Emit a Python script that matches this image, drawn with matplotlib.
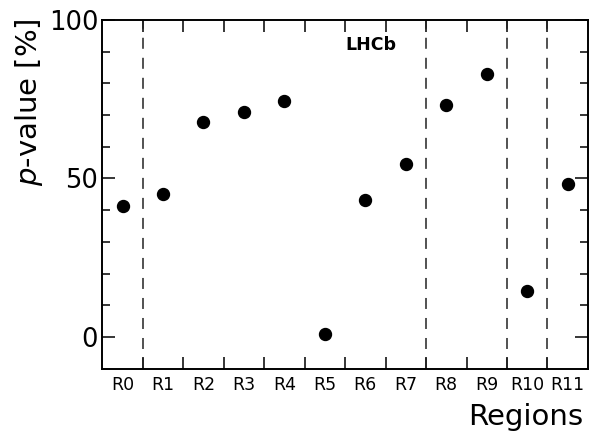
import matplotlib
matplotlib.use("Agg")
import matplotlib.pyplot as plt
from matplotlib.ticker import FixedLocator, MultipleLocator

plt.rcParams['font.family'] = 'DejaVu Sans'
plt.rcParams['mathtext.fontset'] = 'dejavusans'

# p-values per region
regions = ['R0', 'R1', 'R2', 'R3', 'R4', 'R5', 'R6', 'R7', 'R8', 'R9', 'R10', 'R11']
pvalues = [41.4, 45.0, 67.7, 71.1, 74.5, 0.9, 43.2, 54.6, 73.2, 83.0, 14.5, 48.3]
# region boundaries drawn as dashed separators
separators = [1, 8, 10, 11]

fig = plt.figure(figsize=(5.89, 4.32), dpi=100)
ax = fig.add_axes([0.1737, 0.1451, 0.8245, 0.8086])

centers = [i + 0.5 for i in range(len(regions))]
ax.plot(centers, pvalues, 'o', color='black', markersize=8.6, zorder=3)

for s in separators:
    ax.axvline(s, color='#222222', lw=1.1, dashes=(7.2, 5.9), zorder=2)

ax.set_xlim(0, len(regions))
ax.set_ylim(-10.2, 100)

# major x ticks sit on the region boundaries, labels at the centres
ax.xaxis.set_major_locator(FixedLocator(range(1, len(regions))))
ax.xaxis.set_minor_locator(FixedLocator(centers))
ax.xaxis.set_major_formatter(plt.NullFormatter())
ax.xaxis.set_minor_formatter(plt.FixedFormatter(regions))
ax.tick_params(axis='x', which='major', direction='in', length=8.6, width=1.1,
               top=True, bottom=True)
ax.tick_params(axis='x', which='minor', length=0, pad=5, labelsize=12.5)

ax.yaxis.set_major_locator(FixedLocator([0, 50, 100]))
ax.yaxis.set_minor_locator(MultipleLocator(10))
ax.tick_params(axis='y', which='major', direction='in', length=9.3, width=1.1,
               left=True, right=True, labelsize=18.5, pad=3)
ax.tick_params(axis='y', which='minor', direction='in', length=5.5, width=1.1,
               left=True, right=True)

for sp in ax.spines.values():
    sp.set_linewidth(1.4)

ax.set_xlabel('Regions', fontsize=21, loc='right')
ax.xaxis.set_label_coords(0.99, -0.095)
ax.set_ylabel('$p$-value [%]', fontsize=21, loc='top')
ax.yaxis.set_label_coords(-0.118, 1.005)

ax.text(0.50, 0.914, 'LHCb', transform=ax.transAxes, fontsize=12.5,
        fontweight='bold', ha='left', va='baseline')

fig.savefig('out.png', dpi=100)
